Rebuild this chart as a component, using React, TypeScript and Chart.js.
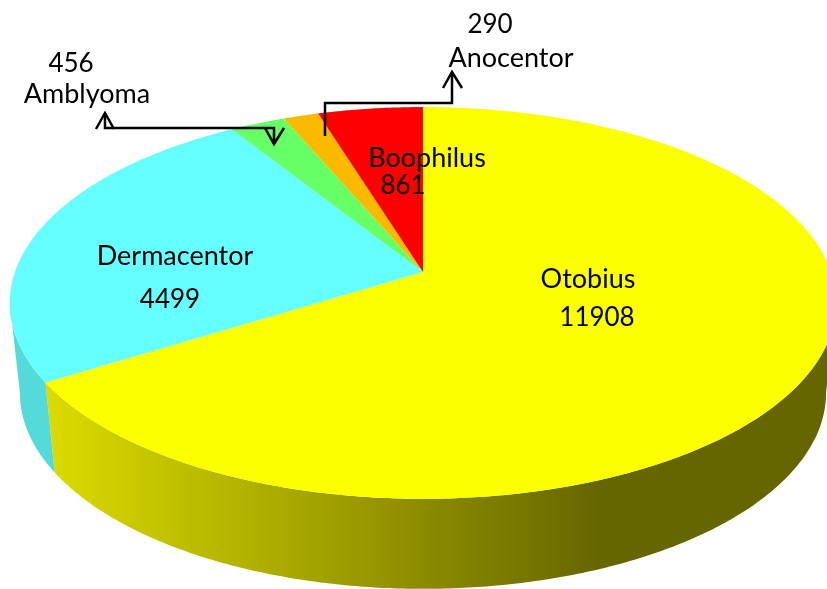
import React, { useEffect, useRef } from "react";
import { Chart, registerables } from "chart.js";

Chart.register(...registerables);

const genera = ["Otobius", "Dermacentor", "Amblyoma", "Anocentor", "Boophilus"];
const counts = [11908, 4499, 456, 290, 861];
const topColors = ["#FBFF00", "#66FFFF", "#66FF66", "#FBB900", "#FF0000"];

const LABEL_FONT = '27px Lato, "Open Sans", sans-serif';
const VALUE_FONT = '26px Lato, "Open Sans", sans-serif';
const TEXT_COLOR = "#000000";

// perspective projection of the unit disc
const top = { cx: 423, cy: 272, a: 408, b: 191, k: 0.158 };
const base = { cx: 423, cy: 362, a: 398, b: 191, k: 0.158 };
const project = (p: typeof top, ang: number): [number, number] => {
  const u = Math.cos(ang);
  const v = Math.sin(ang);
  const w = 1 - p.k * v;
  return [p.cx + (p.a * u) / w, p.cy + (p.b * v) / w];
};
const rimSteps = (s: number, e: number) => {
  const n = Math.max(2, Math.ceil((e - s) / 0.01));
  return Array.from({ length: n + 1 }, (_, i) => s + ((e - s) * i) / n);
};

// the wall's silhouette runs between the rim's widest points
const WALL_FROM = Math.asin(top.k);
const WALL_TO = Math.PI - Math.asin(top.k);

// text anchor per genus: [label centre x, label baseline, value centre x, value baseline]
const labelAt: Record<string, number[]> = {
  Otobius: [588, 288, 597, 326],
  Dermacentor: [175, 265, 170, 308],
  Amblyoma: [87, 103, 71, 72],
  Anocentor: [511, 67, 490, 33],
  Boophilus: [427, 167, 403, 194],
};

const perspectivePie = {
  id: "perspectivePie",
  beforeDatasetsDraw(chart: any) {
    const ctx: CanvasRenderingContext2D = chart.ctx;
    const arcs = chart.getDatasetMeta(0).data;
    ctx.save();
    arcs.forEach((arc: any, i: number) => {
      const s = Math.max(arc.startAngle, WALL_FROM);
      const e = Math.min(arc.endAngle, WALL_TO);
      if (e <= s) return;
      let fill: string | CanvasGradient = "#55DADA";
      if (i === 0) {
        const g = ctx.createLinearGradient(50, 0, 600, 0);
        g.addColorStop(0, "#DBDB00");
        g.addColorStop(1, "#666600");
        fill = g;
      }
      const steps = rimSteps(s, e);
      ctx.beginPath();
      steps.forEach((a, j) => {
        const [x, y] = project(top, a);
        if (j === 0) ctx.moveTo(x, y);
        else ctx.lineTo(x, y);
      });
      [...steps].reverse().forEach((a) => {
        const [x, y] = project(base, a);
        ctx.lineTo(x, y);
      });
      ctx.closePath();
      ctx.fillStyle = fill;
      ctx.fill();
    });
    arcs.forEach((arc: any, i: number) => {
      ctx.beginPath();
      ctx.moveTo(top.cx, top.cy);
      rimSteps(arc.startAngle, arc.endAngle).forEach((a) => {
        const [x, y] = project(top, a);
        ctx.lineTo(x, y);
      });
      ctx.closePath();
      ctx.fillStyle = topColors[i];
      ctx.fill();
    });
    ctx.restore();
    return false;
  },
  afterDraw(chart: any) {
    const ctx: CanvasRenderingContext2D = chart.ctx;
    ctx.save();
    ctx.strokeStyle = "#000000";
    ctx.lineWidth = 2.5;
    ctx.lineJoin = "miter";
    const poly = (pts: number[][]) => {
      ctx.beginPath();
      pts.forEach(([x, y], j) => (j === 0 ? ctx.moveTo(x, y) : ctx.lineTo(x, y)));
      ctx.stroke();
    };
    // Amblyoma leader
    poly([[274, 144], [274, 128], [105, 128], [105, 113]]);
    poly([[96, 129], [105, 113], [114, 129]]);
    poly([[265, 128], [274, 144], [284, 128]]);
    // Anocentor leader
    poly([[325, 136], [325, 103], [452, 103], [452, 72]]);
    poly([[443, 88], [452, 72], [462, 88]]);

    ctx.fillStyle = TEXT_COLOR;
    ctx.textAlign = "center";
    ctx.textBaseline = "alphabetic";
    genera.forEach((g, i) => {
      const [lx, ly, vx, vy] = labelAt[g];
      ctx.font = LABEL_FONT;
      ctx.fillText(g, lx, ly);
      ctx.font = VALUE_FONT;
      ctx.fillText(String(counts[i]), vx, vy);
    });
    ctx.restore();
  },
};

export default function App() {
  const ref = useRef<HTMLCanvasElement>(null);
  useEffect(() => {
    const chart = new Chart(ref.current!, {
      type: "pie",
      data: {
        labels: genera,
        datasets: [{ data: counts, backgroundColor: topColors, borderWidth: 0 }],
      },
      options: {
        responsive: false,
        animation: false,
        rotation: 0,
        plugins: { legend: { display: false }, tooltip: { enabled: false } },
      },
      plugins: [perspectivePie],
    } as any);
    return () => chart.destroy();
  }, []);
  return (
    <canvas
      ref={ref}
      width={827}
      height={589}
      style={{ position: "absolute", left: 0, top: 0, display: "block", background: "#fff" }}
    />
  );
}
